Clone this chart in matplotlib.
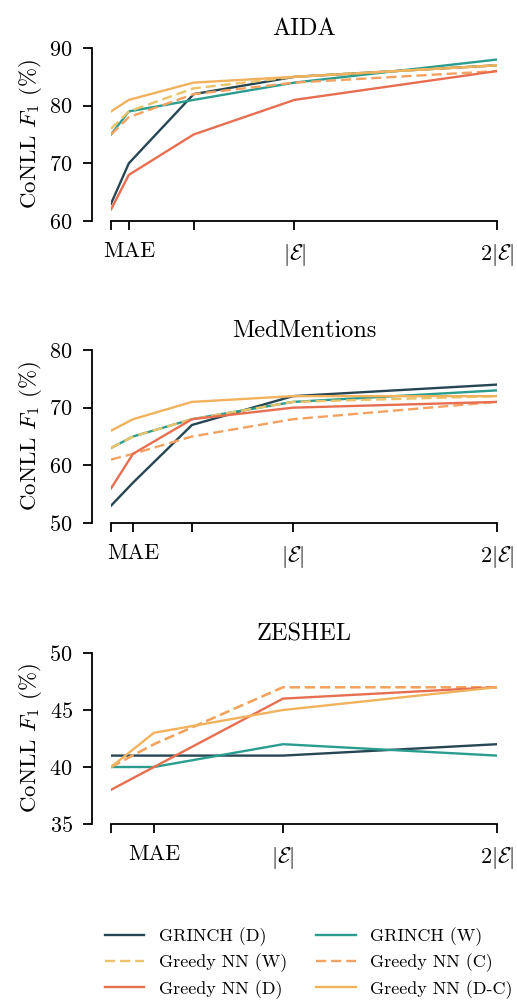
import matplotlib
matplotlib.use("Agg")
import matplotlib.pyplot as plt

plt.rcParams["font.family"] = ["cmr10", "DejaVu Serif"]
plt.rcParams["mathtext.fontset"] = "cm"
plt.rcParams["axes.formatter.use_mathtext"] = True

# series names and colours (legend order)
names = ["GRINCH (D)", "GRINCH (W)", "Greedy NN (W)", "Greedy NN (C)",
         "Greedy NN (D)", "Greedy NN (D-C)"]
colors = ["#264653", "#2a9d8f", "#e9c46a", "#f4a261", "#e76f51", "#f1b25e"]
styles = ["-", "-", "--", "--", "-", "-"]

# x positions in units of |E|
aida_x = [0.094, 0.182, 0.502, 1.0, 2.0]
aida_ticklabels = ["", "MAE", "", r"$|\mathcal{E}|$", r"$2|\mathcal{E}|$"]
aida_y = [
    [63, 70, 82, 85, 87],
    [75, 79, 81, 84, 88],
    [76, 79, 83, 85, 87],
    [75, 78, 82, 84, 86],
    [62, 68, 75, 81, 86],
    [79, 81, 84, 85, 87],
]

med_x = [0.108, 0.216, 0.505, 1.0, 2.0]
med_ticklabels = ["", "MAE", "", r"$|\mathcal{E}|$", r"$2|\mathcal{E}|$"]
med_y = [
    [53, 57, 67, 72, 74],
    [63, 65, 68, 71, 73],
    [63, 65, 68, 71, 72],
    [61, 62, 65, 68, 71],
    [56, 62, 68, 70, 71],
    [66, 68, 71, 72, 72],
]

zes_x = [0.196, 0.397, 1.0, 2.0]
zes_ticklabels = ["", "MAE", r"$|\mathcal{E}|$", r"$2|\mathcal{E}|$"]
zes_y = [
    [41, 41, 41, 42],
    [40, 40, 42, 41],
    [40, 42, 47, 47],
    [40, 42, 47, 47],
    [38, 40, 46, 47],
    [40, 43, 45, 47],
]

panels = [
    ("AIDA", aida_x, aida_ticklabels, aida_y, (60, 90), [60, 70, 80, 90]),
    ("MedMentions", med_x, med_ticklabels, med_y, (50, 80), [50, 60, 70, 80]),
    ("ZESHEL", zes_x, zes_ticklabels, zes_y, (35, 50), [35, 40, 45, 50]),
]

W, H = 517, 1001
fig = plt.figure(figsize=(W / 100, H / 100), dpi=100)

# axes boxes in pixels: (top, bottom)
boxes = [(48, 221), (350, 523), (653, 824)]
left_px, right_px = 111, 497

handles = []
for (title, xs, xlabels, ys, ylim, yticks), (top, bot) in zip(panels, boxes):
    ax = fig.add_axes([left_px / W, 1 - bot / H, (right_px - left_px) / W, (bot - top) / H])
    for i in range(len(names)):
        ln, = ax.plot(xs, ys[i], color=colors[i], linestyle=styles[i], lw=1.7,
                      label=names[i])
        if styles[i] == "--":
            ln.set_dashes((4.3, 2.1))
        if title == "AIDA":
            handles.append(ln)
    ax.set_xlim(xs[0], xs[-1])
    ax.set_ylim(*ylim)
    ax.set_xticks(xs)
    ax.set_xticklabels(xlabels, fontsize=16)
    ax.set_yticks(yticks)
    ax.tick_params(axis="y", labelsize=16, length=6.5, width=1.3, pad=7)
    ax.tick_params(axis="x", length=6.5, width=1.3, pad=8.5)
    for s in ["top", "right"]:
        ax.spines[s].set_visible(False)
    for s in ["left", "bottom"]:
        ax.spines[s].set_linewidth(1.3)
    ax.spines["left"].set_position(("outward", 14))
    ax.set_ylabel(r"CoNLL $F_1$ (%)", fontsize=16.5, labelpad=4)
    ax.set_title(title, fontsize=17.5, pad=9)

# legend laid out row by row
order = [0, 2, 4, 1, 3, 5]
fig.legend([handles[i] for i in order], [names[i] for i in order],
           loc="center", bbox_to_anchor=(0.597, 0.038), ncol=2, frameon=False,
           fontsize=13, handlelength=2.2, handletextpad=0.8, columnspacing=1.6,
           labelspacing=0.42)

fig.savefig("out.png", dpi=100)
